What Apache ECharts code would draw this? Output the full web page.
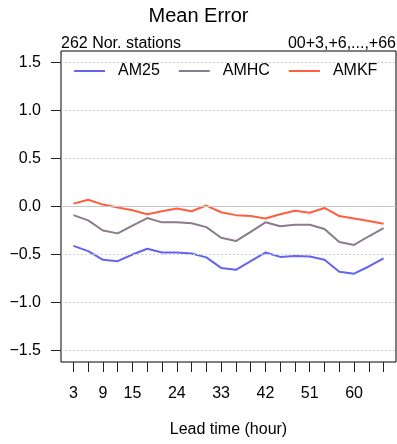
<!DOCTYPE html>
<html>
<head>
<meta charset="utf-8">
<script src="https://cdn.jsdelivr.net/npm/echarts@6/dist/echarts.min.js"></script>
<style>html,body{margin:0;padding:0;background:#fff}#c{width:397px;height:444px}</style>
</head>
<body>
<div id="c"></div>
<script>
const leadTimes = [3,6,9,12,15,18,21,24,27,30,33,36,39,42,45,48,51,54,57,60,63,66];
const xLabelTicks = [3,9,15,24,33,42,51,60];
const yTicks = [-1.5,-1.0,-0.5,0.0,0.5,1.0,1.5];
const seriesNames = ['AM25','AMHC','AMKF'];
const am25 = [-0.41,-0.465,-0.555,-0.57,-0.50,-0.44,-0.48,-0.48,-0.49,-0.53,-0.64,-0.66,-0.57,-0.48,-0.525,-0.515,-0.52,-0.555,-0.68,-0.70,-0.625,-0.54];
const amhc = [-0.09,-0.145,-0.25,-0.28,-0.20,-0.12,-0.165,-0.165,-0.175,-0.215,-0.325,-0.36,-0.265,-0.165,-0.205,-0.19,-0.19,-0.235,-0.37,-0.40,-0.31,-0.225];
const amkf = [0.03,0.07,0.02,-0.01,-0.04,-0.08,-0.05,-0.02,-0.05,0.01,-0.06,-0.09,-0.10,-0.125,-0.08,-0.045,-0.065,-0.015,-0.10,-0.125,-0.15,-0.18];
const colors = ['#6464ee','#8b7b8b','#ff5f3f'];

const font = 'Liberation Sans';
const chart = echarts.init(document.getElementById('c'));
const pair = arr => leadTimes.map((t,i)=>[t, arr[i]]);
const fmtY = v => v.toFixed(1).replace('-', '\u2212');

const gridLines = yTicks.map(v => ({
  yAxis: v,
  lineStyle: {color: v === 0 ? '#c8c8c8' : '#d0d0d0', type: v === 0 ? 'solid' : [2,2], width: 1}
}));

chart.setOption({
  animation: false,
  textStyle: {fontFamily: font},
  title: [
    {text: 'Mean Error', left: 'center', top: 1, textStyle: {fontFamily: font, fontSize: 20, fontWeight: 'normal', color: '#000'}},
    {text: '262 Nor. stations', left: 56, top: 31, textStyle: {fontFamily: font, fontSize: 16, fontWeight: 'normal', color: '#000'}},
    {text: '00+3,+6,...,+66', right: -4, top: 31, textStyle: {fontFamily: font, fontSize: 16, fontWeight: 'normal', color: '#000'}}
  ],
  legend: {
    left: 74, top: 63, padding: 0,
    itemWidth: 31, itemHeight: 2, itemGap: 19,
    icon: 'rect',
    data: seriesNames,
    textStyle: {fontFamily: font, fontSize: 16, color: '#000', padding: [0,0,0,8]}
  },
  grid: {left: 61, right: 1, top: 51, bottom: 82, show: true, borderColor: '#000', borderWidth: 1, backgroundColor: 'transparent'},
  xAxis: {
    type: 'value', min: 0.48, max: 68.52,
    axisLine: {show: false, onZero: false},
    splitLine: {show: false},
    axisTick: {show: true, length: 10, customValues: leadTimes, lineStyle: {color: '#222', width: 1, type: 'solid'}},
    axisLabel: {customValues: xLabelTicks, fontSize: 16, color: '#000', margin: 24, fontFamily: font},
    name: 'Lead time (hour)', nameLocation: 'middle', nameGap: 60,
    nameTextStyle: {fontFamily: font, fontSize: 16, color: '#000'}
  },
  yAxis: {
    type: 'value', min: -1.62, max: 1.62,
    axisLine: {show: false, onZero: false},
    splitLine: {show: false},
    axisTick: {show: true, length: 10, customValues: yTicks, lineStyle: {color: '#222', width: 1, type: 'solid'}},
    axisLabel: {customValues: yTicks, fontSize: 16, color: '#000', margin: 20, fontFamily: font, formatter: fmtY}
  },
  series: [
    {type: 'line', name: 'gridlines', data: [], silent: true,
     markLine: {silent: true, symbol: 'none', label: {show: false}, data: gridLines}},
    {type: 'line', name: seriesNames[0], data: pair(am25), showSymbol: false, symbol: 'none', lineStyle: {width: 2, color: colors[0]}, itemStyle: {color: colors[0]}},
    {type: 'line', name: seriesNames[1], data: pair(amhc), showSymbol: false, symbol: 'none', lineStyle: {width: 2, color: colors[1]}, itemStyle: {color: colors[1]}},
    {type: 'line', name: seriesNames[2], data: pair(amkf), showSymbol: false, symbol: 'none', lineStyle: {width: 2, color: colors[2]}, itemStyle: {color: colors[2]}}
  ]
});
</script>
</body>
</html>
